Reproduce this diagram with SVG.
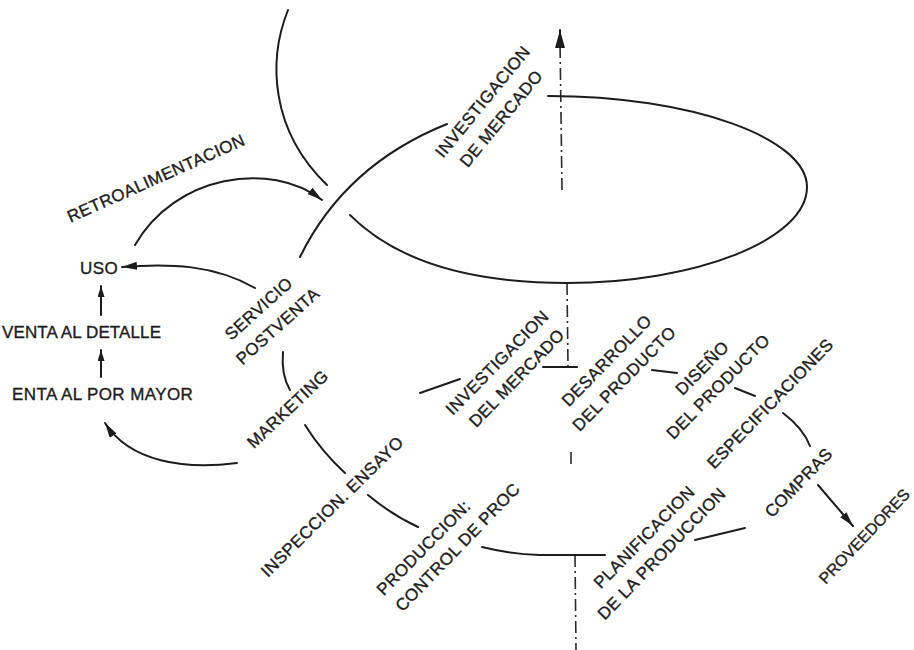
<svg xmlns="http://www.w3.org/2000/svg" width="914" height="650" viewBox="0 0 914 650">
<style>
.ln{fill:none;stroke:#1c1c1c;stroke-width:2;stroke-linecap:round}
.ax{fill:none;stroke:#2a2a2a;stroke-width:1.6;stroke-dasharray:12 4 2 4}
text{font-family:"Liberation Sans",Arial,sans-serif;font-size:17px;fill:#1c1c1c;stroke:#1c1c1c;stroke-width:0.35;letter-spacing:0.4px}
.r text{text-anchor:middle}
</style>
<defs>
<marker id="ah" viewBox="0 0 10 6" refX="10" refY="3" markerWidth="15" markerHeight="8" markerUnits="userSpaceOnUse" orient="auto" preserveAspectRatio="none"><path d="M0,0 L10,3 L0,6 z" fill="#1c1c1c"/></marker>
<marker id="ahs" viewBox="0 0 10 6" refX="10" refY="3" markerWidth="11" markerHeight="7" markerUnits="userSpaceOnUse" orient="auto" preserveAspectRatio="none"><path d="M0,0 L10,3 L0,6 z" fill="#1c1c1c"/></marker>
<marker id="ahl" viewBox="0 0 10 6" refX="10" refY="3" markerWidth="18" markerHeight="10" markerUnits="userSpaceOnUse" orient="auto" preserveAspectRatio="none"><path d="M0,0 L10,3 L0,6 z" fill="#1c1c1c"/></marker>
</defs>
<rect width="914" height="650" fill="#fff"/>

<g id="connectors">
  <!-- vertical axis -->
  <path class="ax" d="M562,190 L560,40"/>
  <path class="ln" d="M560,42 L560,30" marker-end="url(#ahl)"/>
  <path class="ax" d="M567,283 L568,367"/>
  <path class="ax" d="M571,452 L571,466"/>
  <path class="ax" d="M575,555 L576,650"/>
  <!-- upper spiral -->
  <path class="ln" d="M548,96 C691,96 807,138 807,187 C807,240 695,283 567,283 C480,283 400,265 350,215"/>
  <path class="ln" d="M288,10 C268,60 270,130 327,185"/>
  <path class="ln" d="M300,257 Q345,165 447,124"/>
  <!-- left side arrows -->
  <path class="ln" d="M135,245 C175,175 270,160 322,200" marker-end="url(#ah)"/>
  <path class="ln" d="M255,288 C215,265 170,263 122,267" marker-end="url(#ah)"/>
  <path class="ln" d="M101,315 L101,286" marker-end="url(#ahs)"/>
  <path class="ln" d="M101,377 L101,350" marker-end="url(#ahs)"/>
  <path class="ln" d="M237,463 C185,470 130,462 105,423" marker-end="url(#ah)"/>
  <!-- lower loop -->
  <path class="ln" d="M283,352 Q281,375 290,390"/>
  <path class="ln" d="M305,425 Q322,452 345,473"/>
  <path class="ln" d="M368,495 Q392,515 418,527"/>
  <path class="ln" d="M482,547 Q510,554 540,555 L605,555"/>
  <path class="ln" d="M695,540 L745,528"/>
  <path class="ln" d="M420,393 L460,379"/>
  <path class="ln" d="M543,367 L577,367"/>
  <path class="ln" d="M652,370 L677,373"/>
  <path class="ln" d="M735,388 L755,396"/>
  <path class="ln" d="M783,413 Q803,428 810,446"/>
  <path class="ln" d="M818,485 L853,526" marker-end="url(#ah)"/>
</g>

<g id="retroalimentacion" class="r"><text transform="translate(156,178) rotate(-24)" y="6">RETROALIMENTACION</text></g>
<g id="uso"><text x="80" y="274">USO</text></g>
<g id="venta-detalle"><text x="2" y="338" style="letter-spacing:0.1px">VENTA AL DETALLE</text></g>
<g id="venta-mayor"><text x="12" y="400">ENTA AL POR MAYOR</text></g>
<g id="servicio-postventa" class="r">
  <text transform="translate(258.5,308.5) rotate(-42)" y="6">SERVICIO</text>
  <text transform="translate(277.5,326) rotate(-42)" y="6">POSTVENTA</text>
</g>
<g id="marketing" class="r"><text transform="translate(287.5,409) rotate(-43.5)" y="6">MARKETING</text></g>
<g id="inspeccion" class="r"><text transform="translate(332,506.5) rotate(-44.5)" y="6">INSPECCION. ENSAYO</text></g>
<g id="produccion" class="r">
  <text transform="translate(423.5,547.5) rotate(-45.5)" y="6">PRODUCCION:</text>
  <text transform="translate(457.5,547) rotate(-46)" y="6">CONTROL DE PROC</text>
</g>
<g id="investigacion-del-mercado" class="r">
  <text transform="translate(497,362.5) rotate(-45.5)" y="6">INVESTIGACION</text>
  <text transform="translate(516.5,378) rotate(-46)" y="6">DEL MERCADO</text>
</g>
<g id="desarrollo" class="r">
  <text transform="translate(606.5,360.5) rotate(-45.5)" y="6">DESARROLLO</text>
  <text transform="translate(624,378.5) rotate(-45.5)" y="6">DEL PRODUCTO</text>
</g>
<g id="diseno" class="r">
  <text transform="translate(702,368) rotate(-45.5)" y="6">DISEÑO</text>
  <text transform="translate(718,386.5) rotate(-45.5)" y="6">DEL PRODUCTO</text>
</g>
<g id="especificaciones" class="r"><text transform="translate(770,403.5) rotate(-46)" y="6">ESPECIFICACIONES</text></g>
<g id="compras" class="r"><text transform="translate(798.5,482.5) rotate(-46)" y="6">COMPRAS</text></g>
<g id="proveedores" class="r"><text transform="translate(864,536) rotate(-46.5)" y="6" style="font-size:16px;letter-spacing:0">PROVEEDORES</text></g>
<g id="planificacion" class="r">
  <text transform="translate(644,537) rotate(-45.5)" y="6">PLANIFICACION</text>
  <text transform="translate(661.5,553.5) rotate(-46)" y="6">DE LA PRODUCCION</text>
</g>
<g id="investigacion-de-mercado" class="r">
  <text transform="translate(482.5,101.5) rotate(-50.5)" y="6">INVESTIGACION</text>
  <text transform="translate(501,118.5) rotate(-50.5)" y="6">DE MERCADO</text>
</g>
</svg>
